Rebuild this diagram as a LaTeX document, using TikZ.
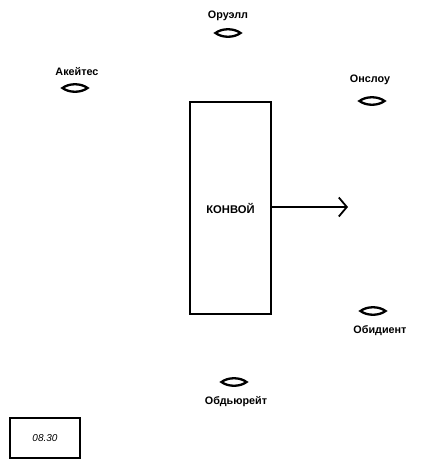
\documentclass[tikz,border=0pt]{standalone}
\usepackage{fontspec}
\setmainfont{Liberation Sans}
\usetikzlibrary{arrows.meta}
\begin{document}
\begin{tikzpicture}[x=1pt,y=-1pt,
  lbl/.style={font=\bfseries\fontsize{10.8}{12}\selectfont, inner sep=0pt},
  convoybox/.style={draw, line width=2pt, minimum width=81pt, minimum height=212pt, inner sep=0pt,
    font=\bfseries\fontsize{11.2}{13}\selectfont},
  timebox/.style={draw, line width=1.8pt, minimum width=70pt, minimum height=40pt, inner sep=0pt,
    font=\itshape\fontsize{10}{11}\selectfont},
  pics/ship/.style={code={
    \draw[line width=2.3pt] (-12.5,0) .. controls (-6,-5) and (6,-5) .. (12.5,0)
      .. controls (6,5) and (-6,5) .. cycle;}}
]
\useasboundingbox (0,0) rectangle (425,469);

% ships
\coordinate (orwell) at (228,33);
\coordinate (achates) at (75,88);
\coordinate (onslow) at (372,101);
\coordinate (obedient) at (373,311);
\coordinate (obdurate) at (234,382);
\pic at (orwell) {ship};
\pic at (achates) {ship};
\pic at (onslow) {ship};
\pic at (obedient) {ship};
\pic at (obdurate) {ship};

\node[lbl] (lorwell) at (228,16) {Оруэлл};
\node[lbl] (lachates) at (77,72) {Акейтес};
\node[lbl] (lonslow) at (370,80) {Онслоу};
\node[lbl] (lobedient) at (380,331) {Обидиент};
\node[lbl] (lobdurate) at (236,402) {Обдьюрейт};

% convoy
\node[convoybox] (convoy) at (230.5,208) {КОНВОЙ};
\coordinate (arrowend) at (348,207);
\draw[line width=1.8pt, -{Straight Barb[length=8pt, width=19pt, line width=1.8pt]}] (convoy.east |- arrowend) -- (arrowend);

% time box
\node[timebox] (time) at (45,438) {08.30};
\end{tikzpicture}
\end{document}
